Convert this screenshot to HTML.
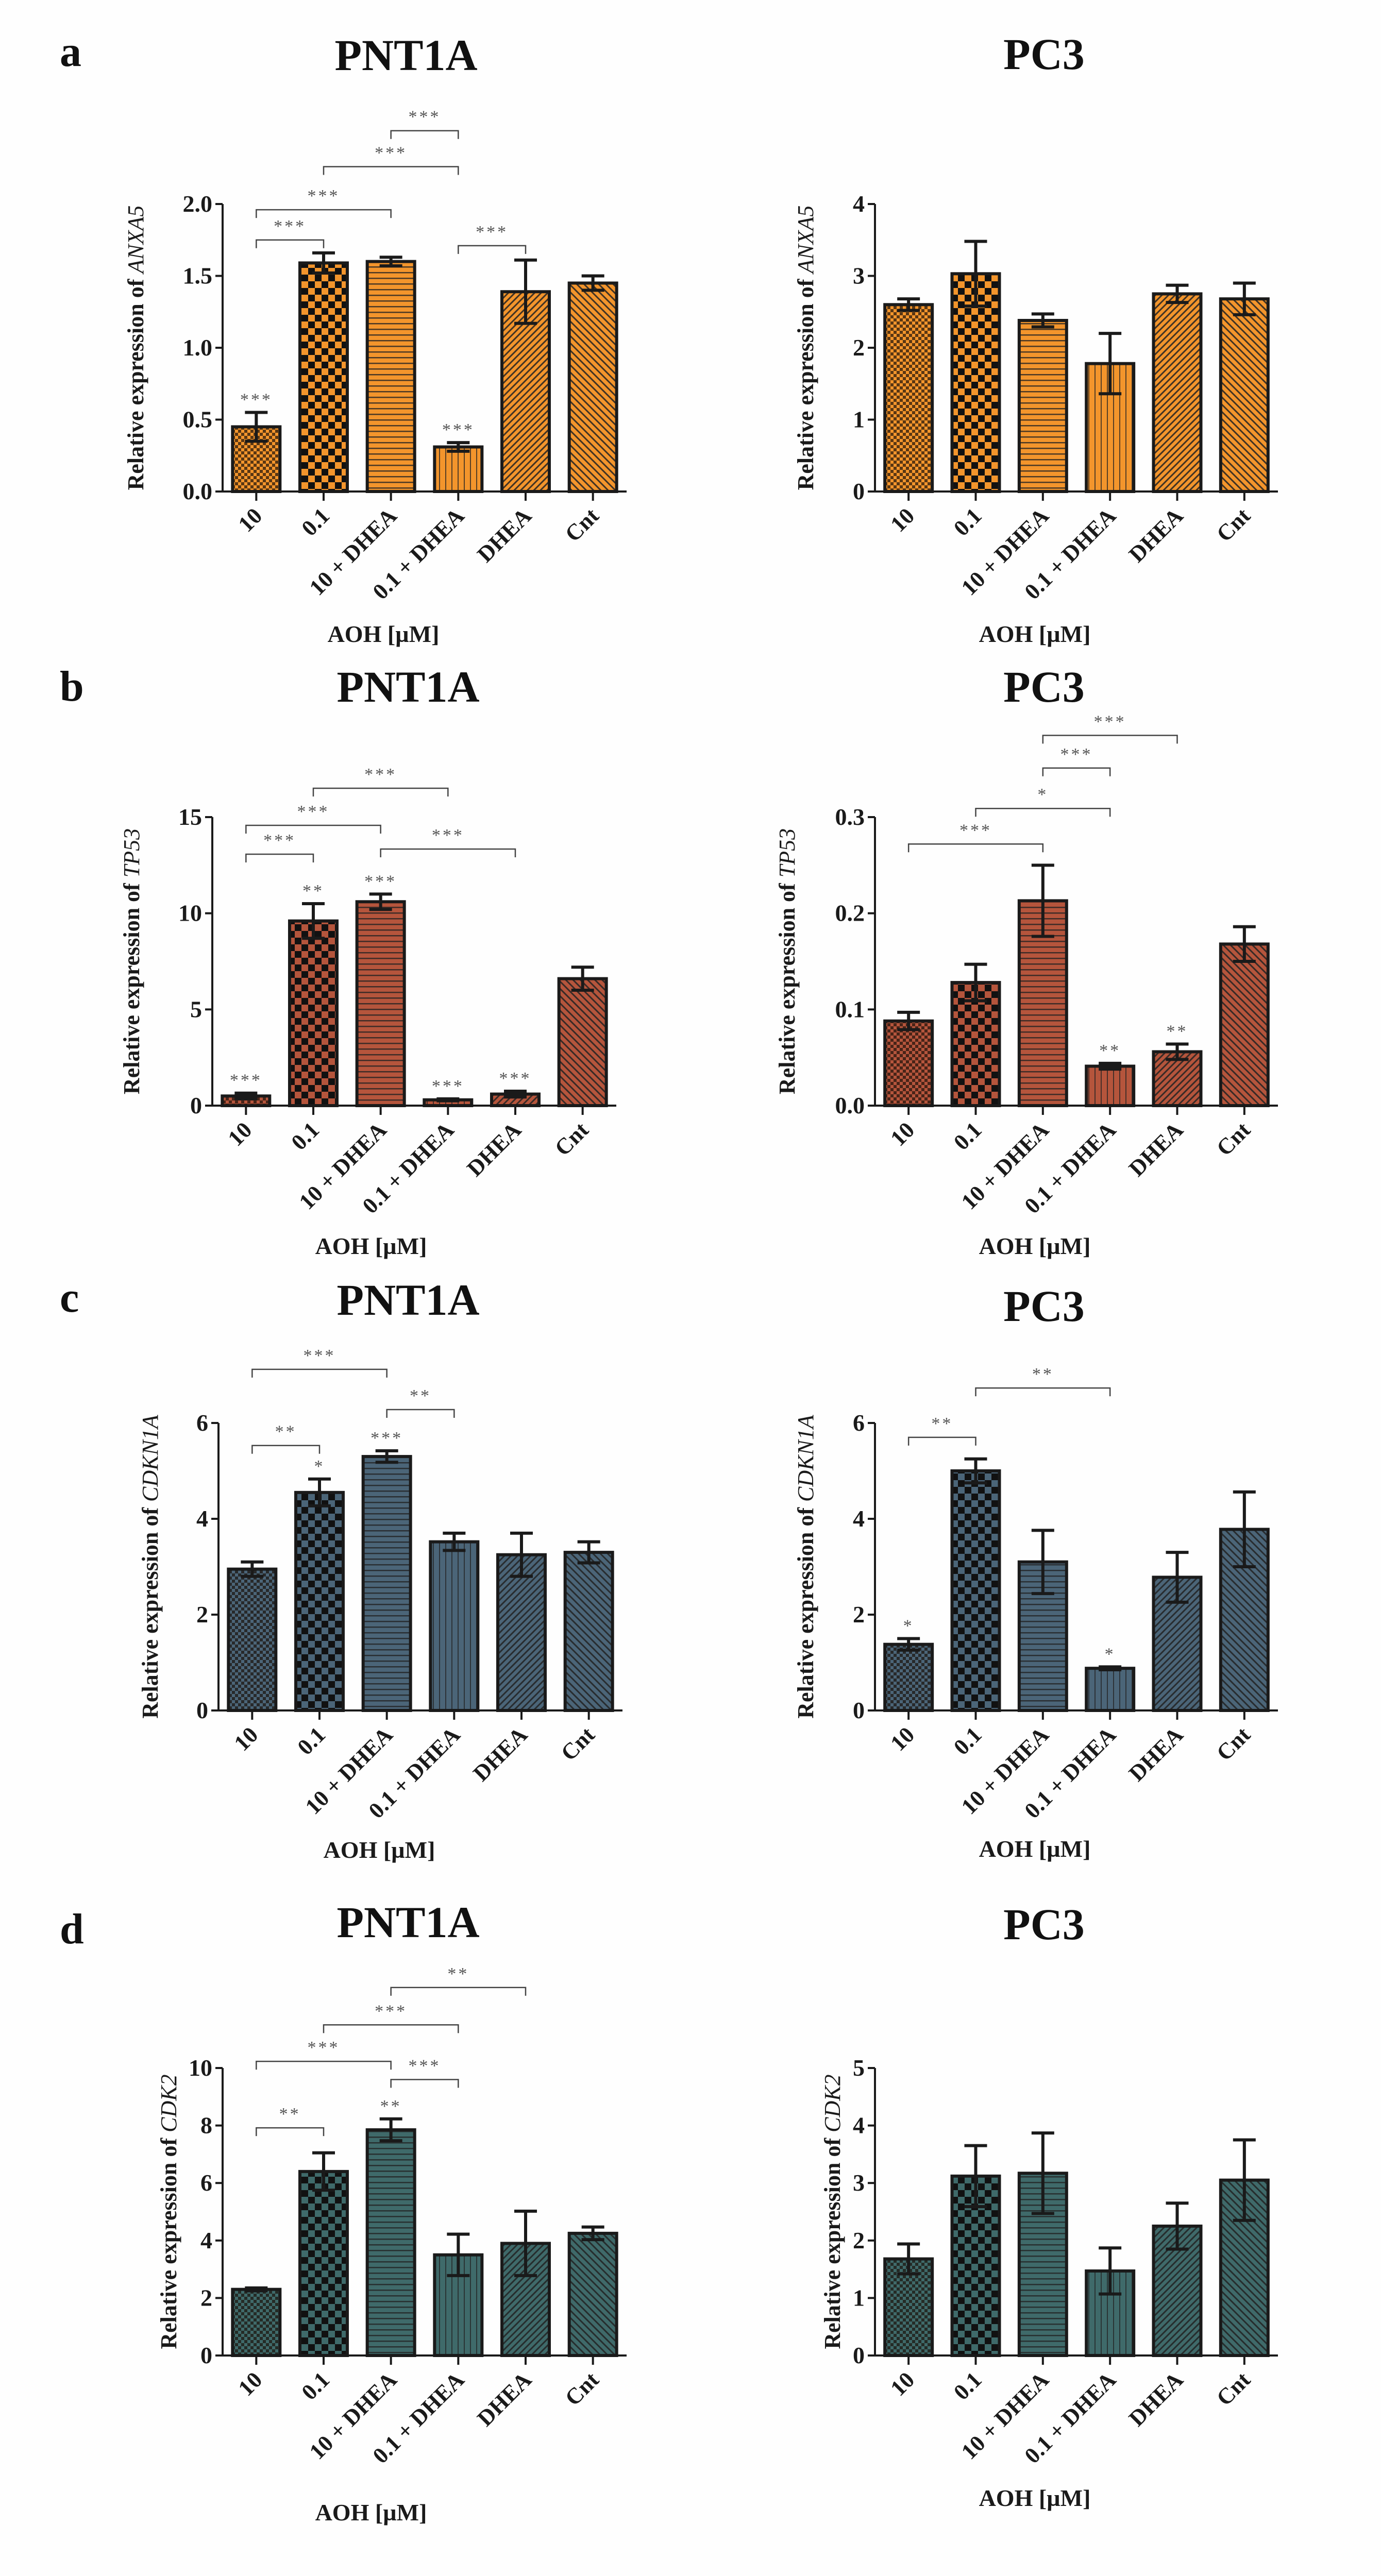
<!DOCTYPE html>
<html><head><meta charset="utf-8"><title>AOH gene expression</title>
<style>
html,body{margin:0;padding:0;background:#fff;width:2680px;height:5014px;overflow:hidden;}
svg{display:block;position:absolute;left:0;top:0;}
text{font-family:"Liberation Serif","Times New Roman",serif;}
</style></head>
<body>
<svg id="fig" width="2680" height="5014" viewBox="0 0 2680 5014" xmlns="http://www.w3.org/2000/svg">
<rect width="2680" height="5014" fill="#fefefe"/>
<defs id="defs"></defs>
</svg>
<script>
// ---- data ----
const categories = ['10','0.1','10 + DHEA','0.1 + DHEA','DHEA','Cnt'];

const aLeftVals = [0.45,1.59,1.60,0.31,1.39,1.45];
const aLeftErrs = [0.10,0.07,0.03,0.03,0.22,0.05];
const aLeftTicks = [0,0.5,1.0,1.5,2.0];
const aLeftTickLabels = ['0.0','0.5','1.0','1.5','2.0'];
const aLeftBarStars = ['***','','','***','',''];
const aLeftBrackets = [[0,1,1.75,'***'],[0,2,1.96,'***'],[1,3,2.26,'***'],[2,3,2.51,'***'],[3,4,1.71,'***']];

const aRightVals = [2.60,3.03,2.38,1.78,2.75,2.68];
const aRightErrs = [0.08,0.45,0.09,0.42,0.12,0.22];
const aRightTicks = [0,1,2,3,4];
const aRightTickLabels = ['0','1','2','3','4'];
const aRightBarStars = ['','','','','',''];
const aRightBrackets = [];

const bLeftVals = [0.5,9.6,10.6,0.3,0.6,6.6];
const bLeftErrs = [0.15,0.9,0.4,0.05,0.15,0.6];
const bLeftTicks = [0,5,10,15];
const bLeftTickLabels = ['0','5','10','15'];
const bLeftBarStars = ['***','**','***','***','***',''];
const bLeftBrackets = [[0,1,13.07,'***'],[0,2,14.57,'***'],[1,3,16.5,'***'],[2,4,13.34,'***']];

const bRightVals = [0.088,0.128,0.213,0.041,0.056,0.168];
const bRightErrs = [0.009,0.019,0.037,0.003,0.008,0.018];
const bRightTicks = [0,0.1,0.2,0.3];
const bRightTickLabels = ['0.0','0.1','0.2','0.3'];
const bRightBarStars = ['','','','**','**',''];
const bRightBrackets = [[0,2,0.272,'***'],[1,3,0.309,'*'],[2,3,0.351,'***'],[2,4,0.385,'***']];

const cLeftVals = [2.95,4.55,5.30,3.52,3.25,3.30];
const cLeftErrs = [0.15,0.28,0.12,0.18,0.45,0.22];
const cLeftTicks = [0,2,4,6];
const cLeftTickLabels = ['0','2','4','6'];
const cLeftBarStars = ['','*','***','','',''];
const cLeftBrackets = [[0,1,5.53,'**'],[0,2,7.12,'***'],[2,3,6.28,'**']];

const cRightVals = [1.38,5.00,3.10,0.88,2.78,3.78];
const cRightErrs = [0.12,0.25,0.66,0.03,0.52,0.78];
const cRightTicks = [0,2,4,6];
const cRightTickLabels = ['0','2','4','6'];
const cRightBarStars = ['*','','','*','',''];
const cRightBrackets = [[0,1,5.70,'**'],[1,3,6.73,'**']];

const dLeftVals = [2.30,6.40,7.85,3.50,3.90,4.25];
const dLeftErrs = [0.05,0.65,0.38,0.72,1.12,0.22];
const dLeftTicks = [0,2,4,6,8,10];
const dLeftTickLabels = ['0','2','4','6','8','10'];
const dLeftBarStars = ['','','**','','',''];
const dLeftBrackets = [[0,1,7.92,'**'],[0,2,10.23,'***'],[1,3,11.5,'***'],[2,3,9.6,'***'],[2,4,12.8,'**']];

const dRightVals = [1.68,3.12,3.17,1.47,2.25,3.05];
const dRightErrs = [0.26,0.53,0.70,0.40,0.40,0.70];
const dRightTicks = [0,1,2,3,4,5];
const dRightTickLabels = ['0','1','2','3','4','5'];
const dRightBarStars = ['','','','','',''];
const dRightBrackets = [];

// ---- layout (not data) ----
const NS = 'http://www.w3.org/2000/svg';
const svg = document.getElementById('fig');
const defs = document.getElementById('defs');
function mk(tag, attrs, parent){
  const e = document.createElementNS(NS, tag);
  for (const k in attrs) e.setAttribute(k, attrs[k]);
  (parent||svg).appendChild(e);
  return e;
}
const colors = {a:'#f3952c', b:'#b5553c', c:'#4b6578', d:'#3f6a6a'};

function makePatterns(key, col){
  let p = mk('pattern',{id:key+'p0',width:12,height:12,patternUnits:'userSpaceOnUse'},defs);
  mk('rect',{width:12,height:12,fill:col},p);
  mk('rect',{x:0,y:0,width:6,height:6,fill:'#1a1008','fill-opacity':0.7},p);
  mk('rect',{x:6,y:6,width:6,height:6,fill:'#1a1008','fill-opacity':0.7},p);
  p = mk('pattern',{id:key+'p1',width:26,height:26,patternUnits:'userSpaceOnUse'},defs);
  mk('rect',{width:26,height:26,fill:col},p);
  mk('rect',{x:0,y:0,width:13,height:13,fill:'#111'},p);
  mk('rect',{x:13,y:13,width:13,height:13,fill:'#111'},p);
  p = mk('pattern',{id:key+'p2',width:11,height:11,patternUnits:'userSpaceOnUse'},defs);
  mk('rect',{width:11,height:11,fill:col},p);
  mk('rect',{x:0,y:0,width:11,height:2.5,fill:'#222','fill-opacity':0.8},p);
  p = mk('pattern',{id:key+'p3',width:12,height:12,patternUnits:'userSpaceOnUse'},defs);
  mk('rect',{width:12,height:12,fill:col},p);
  mk('rect',{x:0,y:0,width:2,height:12,fill:'#222','fill-opacity':0.75},p);
  p = mk('pattern',{id:key+'p4',width:9,height:9,patternUnits:'userSpaceOnUse',patternTransform:'rotate(45)'},defs);
  mk('rect',{width:9,height:9,fill:col},p);
  mk('rect',{x:0,y:0,width:3,height:9,fill:'#222','fill-opacity':0.85},p);
  p = mk('pattern',{id:key+'p5',width:10,height:10,patternUnits:'userSpaceOnUse',patternTransform:'rotate(-45)'},defs);
  mk('rect',{width:10,height:10,fill:col},p);
  mk('rect',{x:0,y:0,width:3,height:10,fill:'#222','fill-opacity':0.85},p);
}
for (const k in colors) makePatterns(k, colors[k]);

function panel(o){
  const g = mk('g',{});
  
  
  const ymax = o.ticks[o.ticks.length-1];
  const yS = v => o.zero - (v / ymax) * (o.zero - o.top);
  const step = (o.right - o.axisX) / categories.length;
  const xS = i => o.axisX + step * (i + 0.5);
  const bw = 92;

  const t = mk('text',{x:o.titleX,y:o.titleY,'font-size':86,'font-weight':'bold','text-anchor':'middle',fill:'#111'},g);
  t.textContent = o.title;
  
  
  if (o.letter){
    const l = mk('text',{x:116,y:o.letterY,'font-size':84,'font-weight':'bold',fill:'#111'},g);
    l.textContent = o.letter;
    
    
  }

  o.vals.forEach((v,i)=>{
    const x = xS(i), y = yS(v);
    const r = mk('rect',{x:x-bw/2,y:y,width:bw,height:o.zero-y,fill:'url(#'+o.key+'p'+i+')',stroke:'#1a1a1a','stroke-width':6},g);
    
    
    const e = o.errs[i];
    const yt = yS(v+e), yb = yS(Math.max(0,v-e));
    const eb = mk('path',{d:`M${x},${yb}V${yt}M${x-22},${yt}H${x+22}M${x-22},${yb}H${x+22}`,stroke:'#1a1a1a','stroke-width':6,fill:'none'},g);
    
    
    if (o.barStars[i]){
      const s = mk('text',{x:x,y:yt-14,'font-size':34,'text-anchor':'middle',fill:'#555','letter-spacing':4},g);
      s.textContent = o.barStars[i];
      
      
    }
  });

  const ax = mk('path',{d:`M${o.axisX},${o.top}V${o.zero}H${o.right}`,stroke:'#1a1a1a','stroke-width':4,fill:'none'},g);
  
  
  o.ticks.forEach((tv,i)=>{
    const y = yS(tv);
    mk('line',{x1:o.axisX-14,x2:o.axisX,y1:y,y2:y,stroke:'#1a1a1a','stroke-width':4},g);
    const tl = mk('text',{x:o.axisX-20,y:y+15,'font-size':46,'font-weight':'bold','text-anchor':'end',fill:'#1a1a1a'},g);
    tl.textContent = o.tickLabels[i];
    
    
  });
  categories.forEach((c,i)=>{
    const x = xS(i);
    mk('line',{x1:x,x2:x,y1:o.zero,y2:o.zero+18,stroke:'#1a1a1a','stroke-width':4},g);
    const cl = mk('text',{x:x+14,y:o.zero+50,'font-size':44,'font-weight':'bold','text-anchor':'end',fill:'#1a1a1a',transform:`rotate(-45 ${x+14} ${o.zero+50})`},g);
    cl.textContent = c;
    
    
  });

  const ymid = (o.top + o.zero)/2;
  const yl = mk('text',{x:o.ylabX,y:ymid,'font-size':44,'font-weight':'bold','text-anchor':'middle',fill:'#1a1a1a',transform:`rotate(-90 ${o.ylabX} ${ymid})`},g);
  yl.textContent = 'Relative expression of ';
  const it = mk('tspan',{'font-style':'italic','font-weight':'normal'},yl);
  it.textContent = o.gene;
  
  

  const xl = mk('text',{x:o.xlabX,y:o.xlabY,'font-size':46,'font-weight':'bold','text-anchor':'middle',fill:'#1a1a1a'},g);
  xl.textContent = 'AOH [\u00b5M]';
  
  

  o.brackets.forEach(b=>{
    const x1 = xS(b[0]), x2 = xS(b[1]), y = yS(b[2]);
    const bp = mk('path',{d:`M${x1},${y+16}V${y}H${x2}V${y+16}`,stroke:'#444','stroke-width':2.5,fill:'none'},g);
    
    
    const s = mk('text',{x:(x1+x2)/2,y:y-16,'font-size':34,'text-anchor':'middle',fill:'#555','letter-spacing':4},g);
    s.textContent = b[3];
    
    
  });
}

panel({name:'panel-a-pnt1a',key:'a',title:'PNT1A',letter:'a',letterY:128,titleX:788,titleY:136,
  axisX:432,top:396,zero:954,right:1216,ylabX:278,xlabX:744,xlabY:1246,gene:'ANXA5',
  vals:aLeftVals,errs:aLeftErrs,ticks:aLeftTicks,tickLabels:aLeftTickLabels,barStars:aLeftBarStars,brackets:aLeftBrackets});
panel({name:'panel-a-pc3',key:'a',title:'PC3',titleX:2026,titleY:134,
  axisX:1698,top:396,zero:954,right:2480,ylabX:1578,xlabX:2008,xlabY:1246,gene:'ANXA5',
  vals:aRightVals,errs:aRightErrs,ticks:aRightTicks,tickLabels:aRightTickLabels,barStars:aRightBarStars,brackets:aRightBrackets});
panel({name:'panel-b-pnt1a',key:'b',title:'PNT1A',letter:'b',letterY:1360,titleX:792,titleY:1362,
  axisX:412,top:1586,zero:2146,right:1196,ylabX:270,xlabX:720,xlabY:2434,gene:'TP53',
  vals:bLeftVals,errs:bLeftErrs,ticks:bLeftTicks,tickLabels:bLeftTickLabels,barStars:bLeftBarStars,brackets:bLeftBrackets});
panel({name:'panel-b-pc3',key:'b',title:'PC3',titleX:2026,titleY:1362,
  axisX:1698,top:1586,zero:2146,right:2480,ylabX:1542,xlabX:2008,xlabY:2434,gene:'TP53',
  vals:bRightVals,errs:bRightErrs,ticks:bRightTicks,tickLabels:bRightTickLabels,barStars:bRightBarStars,brackets:bRightBrackets});
panel({name:'panel-c-pnt1a',key:'c',title:'PNT1A',letter:'c',letterY:2546,titleX:792,titleY:2552,
  axisX:424,top:2762,zero:3320,right:1208,ylabX:306,xlabX:736,xlabY:3606,gene:'CDKN1A',
  vals:cLeftVals,errs:cLeftErrs,ticks:cLeftTicks,tickLabels:cLeftTickLabels,barStars:cLeftBarStars,brackets:cLeftBrackets});
panel({name:'panel-c-pc3',key:'c',title:'PC3',titleX:2026,titleY:2564,
  axisX:1698,top:2762,zero:3320,right:2480,ylabX:1578,xlabX:2008,xlabY:3604,gene:'CDKN1A',
  vals:cRightVals,errs:cRightErrs,ticks:cRightTicks,tickLabels:cRightTickLabels,barStars:cRightBarStars,brackets:cRightBrackets});
panel({name:'panel-d-pnt1a',key:'d',title:'PNT1A',letter:'d',letterY:3772,titleX:792,titleY:3760,
  axisX:432,top:4014,zero:4572,right:1216,ylabX:342,xlabX:720,xlabY:4892,gene:'CDK2',
  vals:dLeftVals,errs:dLeftErrs,ticks:dLeftTicks,tickLabels:dLeftTickLabels,barStars:dLeftBarStars,brackets:dLeftBrackets});
panel({name:'panel-d-pc3',key:'d',title:'PC3',titleX:2026,titleY:3764,
  axisX:1698,top:4014,zero:4572,right:2480,ylabX:1630,xlabX:2008,xlabY:4864,gene:'CDK2',
  vals:dRightVals,errs:dRightErrs,ticks:dRightTicks,tickLabels:dRightTickLabels,barStars:dRightBarStars,brackets:dRightBrackets});
</script>
</body></html>
